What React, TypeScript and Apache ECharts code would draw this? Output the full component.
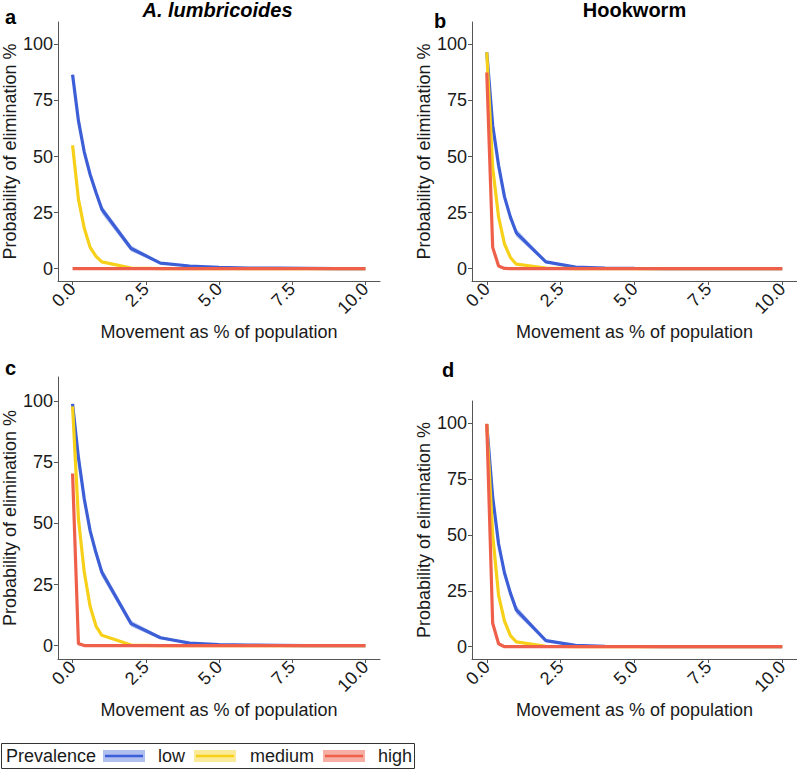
import React, { useEffect, useRef } from "react";
import * as echarts from "echarts";

// Movement as % of population (x values)
const X = [0, 0.2, 0.4, 0.6, 0.8, 1, 2, 3, 4, 5, 6, 7, 8, 9, 10];
const X_TICKS = [0, 2.5, 5, 7.5, 10];
const Y_TICKS = [0, 25, 50, 75, 100];

// Panel a: A. lumbricoides (top)
const aLow = [86.5, 66, 52, 42, 34, 26.5, 9, 2.5, 1.2, 0.6, 0.3, 0.2, 0.1, 0, 0];
const aLowLo = [85, 64.5, 50.5, 40.5, 32.5, 24.5, 7.7, 2, 0.9, 0.4, 0.2, 0.1, 0, 0, 0];
const aLowHi = [88, 67.5, 53.5, 43.5, 35.5, 28.2, 10.3, 3, 1.5, 0.8, 0.4, 0.3, 0.2, 0.1, 0];
const aMed = [55, 31, 18, 9.5, 5.5, 3, 0.3, 0, 0, 0, 0, 0, 0, 0, 0];
const aHigh = [0, 0, 0, 0, 0, 0, 0, 0, 0, 0, 0, 0, 0, 0, 0];

// Panel b: Hookworm (top)
const bLow = [96.5, 64, 46, 32, 23, 16, 3, 0.7, 0.3, 0.1, 0, 0, 0, 0, 0];
const bLowLo = [95.5, 62.5, 44.5, 30.5, 21.5, 14.2, 2.4, 0.4, 0.1, 0, 0, 0, 0, 0, 0];
const bLowHi = [97.5, 65.5, 47.5, 33.5, 24.5, 17.8, 3.6, 1, 0.5, 0.2, 0.1, 0, 0, 0, 0];
const bMed = [96.5, 45, 23, 11, 5, 2, 0.3, 0, 0, 0, 0, 0, 0, 0, 0];
const bHigh = [87.5, 9.5, 1.2, 0.1, 0, 0, 0, 0, 0, 0, 0, 0, 0, 0, 0];

// Panel c: A. lumbricoides (bottom)
const cLow = [99, 77, 60, 47, 38, 30, 9, 3.2, 1, 0.4, 0.2, 0.1, 0, 0, 0];
const cLowLo = [98.5, 75.5, 58.5, 45.5, 36.5, 28.2, 7.7, 2.6, 0.7, 0.2, 0.1, 0, 0, 0, 0];
const cLowHi = [99.5, 78.5, 61.5, 48.5, 39.5, 31.8, 10.3, 3.8, 1.3, 0.6, 0.3, 0.2, 0.1, 0, 0];
const cMed = [98, 52, 30, 16, 8, 4.2, 0.2, 0, 0, 0, 0, 0, 0, 0, 0];
const cHigh = [70.5, 0.8, 0, 0, 0, 0, 0, 0, 0, 0, 0, 0, 0, 0, 0];

// Panel d: Hookworm (bottom)
const dLow = [99.5, 67, 46, 33, 24, 16.5, 2.7, 0.6, 0.2, 0.1, 0, 0, 0, 0, 0];
const dLowLo = [99, 65.5, 44.5, 31.5, 22.5, 14.7, 2.1, 0.3, 0.1, 0, 0, 0, 0, 0, 0];
const dLowHi = [100, 68.5, 47.5, 34.5, 25.5, 18.3, 3.3, 0.9, 0.4, 0.2, 0.1, 0, 0, 0, 0];
const dMed = [99.5, 50, 23, 11.5, 5, 2.2, 0.2, 0, 0, 0, 0, 0, 0, 0, 0];
const dHigh = [99.8, 10.5, 1.3, 0, 0, 0, 0, 0, 0, 0, 0, 0, 0, 0, 0];

const PANELS = [
  { low: aLow, lo: aLowLo, hi: aLowHi, med: aMed, high: aHigh },
  { low: bLow, lo: bLowLo, hi: bLowHi, med: bMed, high: bHigh },
  { low: cLow, lo: cLowLo, hi: cLowHi, med: cMed, high: cHigh },
  { low: dLow, lo: dLowLo, hi: dLowHi, med: dMed, high: dHigh },
];

const PREVALENCE = ["low", "medium", "high"];
const TITLES = ["A. lumbricoides", "Hookworm"];
const LETTERS = ["a", "b", "c", "d"];
const X_NAME = "Movement as % of population";
const Y_NAME = "Probability of elimination %";

const LOW_C = "#3C5ED6";
const MED_C = "#F7D019";
const HIGH_C = "#EF604B";
const LOW_FILL = "rgba(60,94,214,0.35)";
const FONT = "'Liberation Sans', Arial, Helvetica, sans-serif";
const AXIS_C = "#555555";
const TEXT_C = "#1a1a1a";

const GRIDS = [
  { left: 55, top: 22, width: 325, height: 259 },
  { left: 472, top: 22, width: 325, height: 259 },
  { left: 55, top: 377, width: 325, height: 282 },
  { left: 472, top: 401, width: 325, height: 258 },
];

export default function App() {
  const ref = useRef<HTMLDivElement>(null);

  useEffect(() => {
    document.body.style.margin = "0";
    if (!ref.current) return;
    const chart = echarts.init(ref.current, null, { renderer: "svg" });

    const xAxis = GRIDS.map((_, i) => ({
      type: "value",
      gridIndex: i,
      min: -0.5,
      max: 10.5,
      splitLine: { show: false },
      axisLine: { show: true, onZero: false, lineStyle: { color: AXIS_C, width: 1 } },
      axisTick: { show: true, customValues: X_TICKS, length: 4, lineStyle: { color: AXIS_C } },
      axisLabel: {
        customValues: X_TICKS,
        rotate: 45,
        margin: 5,
        fontSize: 18,
        fontFamily: FONT,
        color: TEXT_C,
        formatter: (v: number) => v.toFixed(1),
      },
      name: X_NAME,
      nameLocation: "middle",
      nameGap: 42,
      nameTextStyle: { fontSize: 18, fontFamily: FONT, color: TEXT_C },
    }));

    const yAxis = GRIDS.map((_, i) => ({
      type: "value",
      gridIndex: i,
      min: -5.5,
      max: 110,
      splitLine: { show: false },
      axisLine: { show: true, onZero: false, lineStyle: { color: AXIS_C, width: 1 } },
      axisTick: { show: true, customValues: Y_TICKS, length: 4, lineStyle: { color: AXIS_C } },
      axisLabel: {
        customValues: Y_TICKS,
        margin: 5,
        fontSize: 18,
        fontFamily: FONT,
        color: TEXT_C,
      },
      name: Y_NAME,
      nameLocation: "middle",
      nameGap: 38,
      nameTextStyle: { fontSize: 18, fontFamily: FONT, color: TEXT_C },
    }));

    const series: any[] = [];
    PANELS.forEach((p, i) => {
      const common = {
        type: "line",
        xAxisIndex: i,
        yAxisIndex: i,
        symbol: "none",
        silent: true,
      };
      series.push({
        type: "custom",
        name: "ribbon" + i,
        xAxisIndex: i,
        yAxisIndex: i,
        silent: true,
        data: [[0, 0]],
        renderItem: (_params: any, api: any) => {
          const upper = X.map((x, k) => api.coord([x, p.hi[k]]));
          const lower = X.map((x, k) => api.coord([x, p.lo[k]])).reverse();
          return {
            type: "polygon",
            shape: { points: upper.concat(lower) },
            style: { fill: LOW_FILL, stroke: "none" },
          };
        },
      });
      series.push({
        ...common,
        name: PREVALENCE[0],
        data: X.map((x, k) => [x, p.low[k]]),
        lineStyle: { color: LOW_C, width: 3.2 },
      });
      series.push({
        ...common,
        name: PREVALENCE[1],
        data: X.map((x, k) => [x, p.med[k]]),
        lineStyle: { color: MED_C, width: 3.2 },
      });
      series.push({
        ...common,
        name: PREVALENCE[2],
        data: X.map((x, k) => [x, p.high[k]]),
        lineStyle: { color: HIGH_C, width: 3.2 },
      });
    });

    const txt = (text: string, x: number, y: number, extra: any = {}) => ({
      type: "text",
      x,
      y,
      style: {
        text,
        fontFamily: FONT,
        fontSize: 18,
        fill: TEXT_C,
        align: "left",
        verticalAlign: "middle",
        ...extra,
      },
    });

    const legendY = 743;
    const keys = [
      { x: 103, fill: "rgba(60,94,214,0.4)", stroke: LOW_C, label: PREVALENCE[0], lx: 158 },
      { x: 194, fill: "rgba(247,208,25,0.45)", stroke: MED_C, label: PREVALENCE[1], lx: 250 },
      { x: 323, fill: "rgba(239,96,75,0.5)", stroke: HIGH_C, label: PREVALENCE[2], lx: 378 },
    ];
    const graphic: any[] = [
      txt(TITLES[0], 217.5, 10, { align: "center", fontWeight: "bold", fontStyle: "italic", fontSize: 20, fill: "#000" }),
      txt(TITLES[1], 634.5, 10, { align: "center", fontWeight: "bold", fontSize: 20, fill: "#000" }),
      txt(LETTERS[0], 5, 17, { fontWeight: "bold", fontSize: 20, fill: "#000" }),
      txt(LETTERS[1], 434, 21, { fontWeight: "bold", fontSize: 20, fill: "#000" }),
      txt(LETTERS[2], 5, 368, { fontWeight: "bold", fontSize: 20, fill: "#000" }),
      txt(LETTERS[3], 442, 370, { fontWeight: "bold", fontSize: 20, fill: "#000" }),
      {
        type: "rect",
        shape: { x: 1.5, y: legendY + 0.5, width: 413, height: 25 },
        style: { fill: "#fff", stroke: "#333", lineWidth: 1 },
      },
      txt("Prevalence", 6, legendY + 13, { fontSize: 18 }),
    ];
    keys.forEach((k) => {
      graphic.push({
        type: "rect",
        shape: { x: k.x, y: legendY + 7, width: 42, height: 12 },
        style: { fill: k.fill, stroke: "none" },
      });
      graphic.push({
        type: "line",
        shape: { x1: k.x + 2, y1: legendY + 13, x2: k.x + 40, y2: legendY + 13 },
        style: { stroke: k.stroke, lineWidth: 2.5 },
      });
      graphic.push(txt(k.label, k.lx, legendY + 13, { fontSize: 18 }));
    });

    chart.setOption({
      animation: false,
      backgroundColor: "#ffffff",
      grid: GRIDS.map((g) => ({ ...g, containLabel: false })),
      xAxis,
      yAxis,
      series,
      graphic,
    });

    return () => chart.dispose();
  }, []);

  return <div ref={ref} style={{ width: 797, height: 769 }} />;
}
